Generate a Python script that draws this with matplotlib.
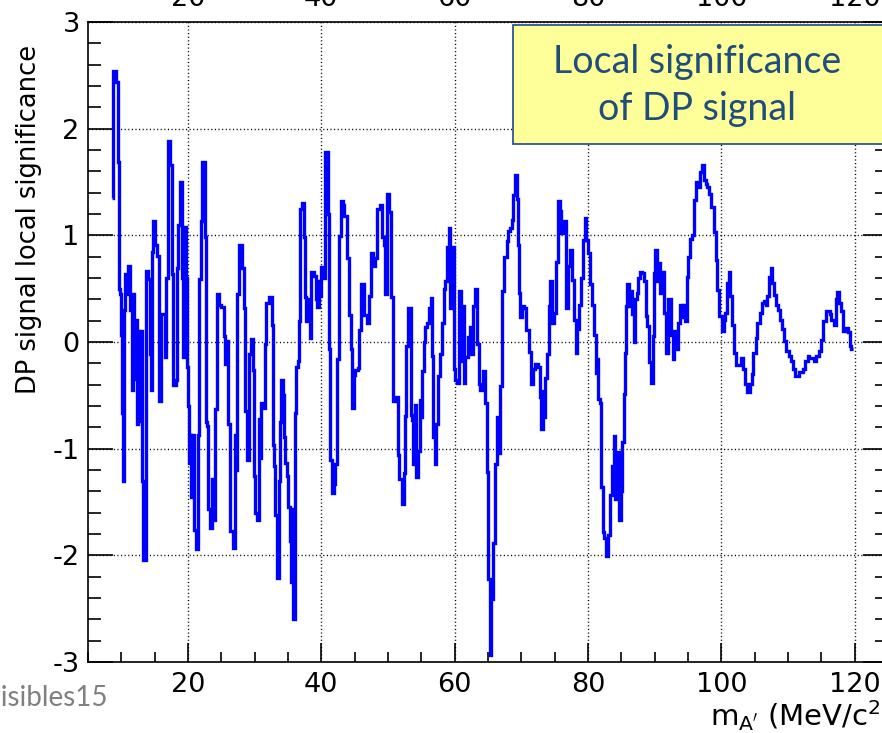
import numpy as np
import matplotlib
matplotlib.use('Agg')
import matplotlib.pyplot as plt
from matplotlib.patches import Rectangle
from matplotlib.ticker import MultipleLocator

plt.rcParams['font.family'] = 'DejaVu Sans'
plt.rcParams['axes.unicode_minus'] = False

# left bin edges (MeV/c^2) and local significance, split by mass range
m1 = [8.55, 8.80, 9.15, 9.45, 9.65, 9.80, 9.95, 10.05, 10.20, 10.40, 10.55, 10.80, 10.95, 11.30, 11.55,
      11.65, 11.80, 11.95, 12.10, 12.30, 12.50, 12.70, 12.90, 13.05, 13.30, 13.65, 14.05, 14.30, 14.45, 14.60,
      14.80, 15.10, 15.40, 15.65, 15.90, 16.55, 16.75, 16.95, 17.30, 17.55, 17.70, 18.20, 18.35, 18.55, 18.75,
      19.05, 19.25, 19.40, 19.65, 19.80, 19.95, 20.10, 20.30, 20.45, 20.65, 20.85, 21.20, 21.55, 21.70, 21.90,
      22.10, 22.50, 22.70, 22.90, 23.05, 23.30, 23.55, 23.85, 24.10, 24.30, 24.65, 25.00, 25.35, 25.50, 25.70,
      26.00, 26.35, 26.70, 27.00, 27.25, 27.40, 27.70, 28.15, 28.35, 28.55, 28.85, 29.10, 29.40, 29.75]
s1 = [1.35, 2.54, 2.44, 1.69, 0.50, 0.45, 0.07, -0.67, -1.30, 0.30, 0.64, 0.45, 0.71, 0.30, 0.45,
      -0.45, 0.45, -0.35, 0.21, -0.77, 0.10, -0.74, 0.10, -1.30, -2.04, 0.67, 0.59, -0.11, -0.45, 0.84,
      1.13, 0.91, 0.81, -0.55, 0.26, -0.14, 0.60, 1.88, 1.66, 0.64, -0.40, -0.36, 0.69, 1.10, 1.50,
      0.60, -0.14, 1.08, 0.60, -0.23, -0.60, -1.13, -0.87, -1.45, -0.87, -1.76, -1.94, -0.87, 0.59, 1.13,
      1.69, 0.98, -0.75, -0.79, -1.57, -1.74, -1.28, -1.67, -0.63, 0.45, 0.35, 0.33, 0.06, -0.21, 0.01,
      -0.77, -1.77, -1.93, -0.87, -1.20, 0.45, 0.91, 0.69, 0.32, -0.65, -1.11, -0.11, 0.03, -0.26]

m2 = [29.85, 30.10, 30.35, 30.60, 30.85, 30.95, 31.25, 31.55, 31.75, 32.15, 32.55, 32.75, 32.95, 33.10, 33.35,
      33.60, 33.75, 33.90, 34.20, 34.40, 34.60, 34.85, 35.05, 35.25, 35.45, 35.65, 35.75, 36.00, 36.25, 36.45,
      36.65, 36.85, 37.10, 37.35, 37.60, 37.75, 37.90, 38.25, 38.45, 38.85, 39.15, 39.35, 39.60, 39.80, 40.00,
      40.35, 40.60, 40.95, 41.10, 41.30, 41.60, 41.85, 42.10, 42.35, 42.65, 42.95, 43.25, 43.45, 43.85, 44.10,
      44.45, 44.65, 44.85, 45.10, 45.45, 45.65, 45.95, 46.35, 46.85, 47.10, 47.45, 47.75, 48.05, 48.35, 48.75,
      49.10, 49.35, 49.60, 49.85, 50.20, 50.45, 50.75, 51.10, 51.45, 51.70, 52.05, 52.45, 52.60, 52.75, 52.95]
s2 = [-1.26, -1.60, -1.67, -0.72, -1.09, -0.57, -0.62, -0.02, 0.37, 0.42, 0.16, -0.97, -1.16, -1.62, -2.21,
      -1.30, -0.75, -0.36, -0.50, -0.89, -1.13, -1.26, -1.55, -1.87, -2.25, -1.57, -2.60, -0.67, -0.23, -0.18,
      0.20, 1.25, 1.30, 0.98, 0.42, 0.20, 0.40, 0.04, 0.66, 0.62, 0.40, 0.33, 0.57, 0.43, 0.70,
      0.60, 1.78, 1.20, -0.07, -1.11, -1.42, -1.33, -1.14, -0.16, 0.99, 1.32, 1.28, 1.18, 0.79, 0.25,
      -0.07, -0.62, -0.31, -0.26, -0.24, 0.11, 0.54, 0.25, 0.18, 0.43, 0.83, 0.71, 0.79, 1.25, 1.28,
      0.98, 0.91, 0.45, 1.39, 1.22, 0.42, -0.55, -0.52, -1.06, -1.28, -1.52, -1.23, -0.69, -0.04, 0.32]

m3 = [53.50, 53.65, 53.80, 54.00, 54.25, 54.55, 54.75, 54.95, 55.15, 55.35, 55.60, 55.85, 56.10, 56.40, 56.65,
      56.80, 57.00, 57.25, 57.55, 57.85, 58.10, 58.35, 58.60, 58.85, 59.10, 59.35, 59.55, 59.75, 59.90, 60.10,
      60.35, 60.60, 60.95, 61.10, 61.35, 61.60, 61.95, 62.25, 62.50, 62.75, 63.10, 63.35, 63.60, 63.85, 64.25,
      64.55, 64.85, 65.05, 65.25, 65.50, 65.75, 66.05, 66.35, 66.60, 66.80, 67.05, 67.45, 67.80, 68.05, 68.30,
      68.55, 68.75, 69.00, 69.30, 69.45, 69.60, 69.85, 70.10, 70.35, 70.75, 71.10, 71.45, 71.75, 72.10, 72.45,
      72.75, 72.95, 73.25, 73.40, 73.60, 73.85, 74.10, 74.35, 74.60, 74.95, 75.25, 75.50, 75.75, 75.95, 76.25]
s3 = [-0.68, -0.73, -1.14, -0.59, -1.27, -1.02, -0.54, -0.70, -0.27, 0.00, 0.14, 0.18, 0.32, 0.41, -0.13,
      -0.89, -1.14, -0.77, -0.32, -0.11, 0.18, 0.50, 0.57, 0.89, 1.07, 0.32, 0.57, 0.89, -0.25, -0.36,
      -0.38, 0.48, -0.18, 0.34, -0.38, -0.14, 0.05, 0.14, -0.11, 0.34, 0.50, -0.02, -0.39, -0.45, -0.27,
      -0.57, -1.22, -2.22, -2.93, -2.41, -1.88, -1.14, -0.70, -1.04, -0.41, 0.48, 0.80, 0.95, 1.04, 1.07,
      1.14, 1.38, 1.57, 1.34, 0.91, 0.46, 0.23, 0.34, 0.32, 0.11, -0.09, -0.39, -0.25, -0.21, -0.23,
      -0.52, -0.82, -0.46, -0.70, -0.34, -0.11, 0.34, 0.57, 0.18, 0.27, 0.75, 1.32, 1.23, 1.02, 1.13]

m4 = [76.64, 76.94, 77.28, 77.58, 77.87, 78.17, 78.42, 78.66, 78.91, 79.21, 79.50, 79.75, 80.00, 80.29, 80.59,
      80.89, 81.13, 81.38, 81.53, 81.77, 81.97, 82.22, 82.47, 82.76, 83.06, 83.36, 83.60, 83.85, 84.05, 84.34,
      84.59, 84.94, 85.08, 85.33, 85.58, 85.73, 85.92, 86.17, 86.42, 86.66, 86.91, 87.11, 87.31, 87.55, 87.80,
      88.15, 88.39, 88.64, 88.89, 89.13, 89.43, 89.68, 89.87, 90.12, 90.37, 90.62, 90.86, 91.11, 91.36, 91.65,
      92.00, 92.39, 92.69, 92.94, 93.18, 93.43, 93.73, 94.07, 94.32, 94.57, 94.82, 95.06, 95.36, 95.66, 95.90,
      96.20, 96.55, 96.79, 97.09, 97.44, 97.68, 97.88, 98.18, 98.52, 98.87, 99.17, 99.36, 99.61]
s4 = [0.32, 0.71, 0.86, 0.58, 0.21, -0.10, 0.12, 0.35, 0.60, 0.96, 1.16, 0.96, 0.83, 0.54, 0.35,
      0.07, -0.29, -0.16, -0.53, -0.57, -1.36, -1.78, -1.84, -2.01, -1.81, -1.43, -1.16, -0.88, -1.47, -1.03,
      -1.67, -1.40, -0.94, -0.49, -0.10, 0.34, 0.54, 0.34, 0.48, 0.26, 0.00, 0.40, 0.46, 0.60, 0.66,
      0.65, 0.57, 0.24, 0.15, -0.19, -0.38, 0.06, 0.65, 0.86, 0.57, 0.74, 0.46, 0.66, 0.27, -0.10,
      0.40, 0.07, -0.16, 0.10, -0.07, 0.18, 0.35, 0.23, 0.35, 0.20, 0.61, 0.80, 0.97, 1.00, 1.33,
      1.50, 1.45, 1.59, 1.66, 1.52, 1.48, 1.45, 1.39, 1.27, 1.03, 0.77, 0.49, 0.24]

m5 = [100.10, 100.36, 100.61, 100.86, 101.11, 101.36, 101.62, 101.87, 102.22, 102.88, 103.23, 103.53, 103.88,
      104.24, 104.54, 104.79, 105.14, 105.40, 105.75, 106.05, 106.40, 106.66, 106.91, 107.16, 107.41, 107.66,
      107.92, 108.27, 108.57, 108.77, 109.08, 109.43, 109.68, 110.08, 110.44, 110.79, 111.09, 111.70, 112.20,
      112.60, 112.96, 113.21, 113.96, 114.22, 114.62, 114.97, 115.32, 115.63, 116.23, 116.48, 116.84, 117.14,
      117.34, 117.64, 117.99, 118.25, 118.50, 119.00, 119.25, 119.51]
s5 = [0.10, 0.21, 0.27, 0.55, 0.66, 0.43, 0.16, -0.10, -0.22, -0.15, -0.25, -0.39, -0.47,
      -0.39, -0.30, -0.10, 0.04, 0.18, 0.27, 0.37, 0.38, 0.35, 0.43, 0.61, 0.69, 0.55,
      0.44, 0.35, 0.30, 0.21, 0.12, 0.01, -0.08, -0.13, -0.18, -0.25, -0.32, -0.28, -0.25,
      -0.18, -0.13, -0.15, -0.18, -0.13, -0.08, 0.02, 0.20, 0.29, 0.26, 0.21, 0.16, 0.40,
      0.47, 0.37, 0.29, 0.10, 0.13, 0.09, -0.04, -0.07]

mass_end = 119.8

x_ticks = [20, 40, 60, 80, 100, 120]
y_ticks = [-3, -2, -1, 0, 1, 2, 3]

edges = np.concatenate([m1, m2, m3, m4, m5, [mass_end]])
signif = np.concatenate([s1, s2, s3, s4, s5])

W, H = 882, 733
fig = plt.figure(figsize=(W / 100, H / 100), dpi=100)
ax = fig.add_axes([88 / W, 1 - 662 / H, 800 / W, 640 / H])

ax.stairs(signif, edges, baseline=None, color='#0000ff', lw=2.4, zorder=3)

ax.set_xlim(5, 125)
ax.set_ylim(-3, 3)
ax.set_xticks(x_ticks)
ax.set_yticks(y_ticks)
ax.xaxis.set_minor_locator(MultipleLocator(5))
ax.yaxis.set_minor_locator(MultipleLocator(0.2))

ax.grid(which='major', color='black', linestyle=(0, (0.8, 1.8)), lw=1.0)
for sp in ax.spines.values():
    sp.set_linewidth(1.2)

ax.tick_params(which='both', direction='in', top=False, right=True, labeltop=True,
               labelsize=19.5, width=1.2)
ax.tick_params(axis='x', which='major', length=14, pad=7)
ax.tick_params(axis='x', which='minor', length=7)
ax.tick_params(axis='y', which='major', length=18, pad=6)
ax.tick_params(axis='y', which='minor', length=9.5)

fig.text(29 / W, 1 - 45 / H, 'DP signal local significance', rotation=90,
         ha='center', va='top', fontsize=18.5)
fig.text(892 / W, 1 - 726 / H, r"$\mathrm{m_{A'}}$ (MeV/c$^{2}$)", ha='right', va='baseline',
         fontsize=21)

# yellow slide annotation
fig.add_artist(Rectangle((513 / W, 1 - 144 / H), 400 / W, 119 / H, transform=fig.transFigure,
                         facecolor='#ffff99', edgecolor='#2f5597', lw=1.3, zorder=5))
fig.text(697 / W, 1 - 73 / H, 'Local significance', ha='center', va='baseline',
         fontsize=27, color='#1f4e79', family='Lato', zorder=6)
fig.text(697 / W, 1 - 120 / H, 'of DP signal', ha='center', va='baseline',
         fontsize=27, color='#1f4e79', family='Lato', zorder=6)

fig.text(108 / W, 1 - 706 / H, 'Invisibles15', ha='right', va='baseline',
         fontsize=20, color='#808080', family='Lato')

fig.savefig('out.png', dpi=100)
